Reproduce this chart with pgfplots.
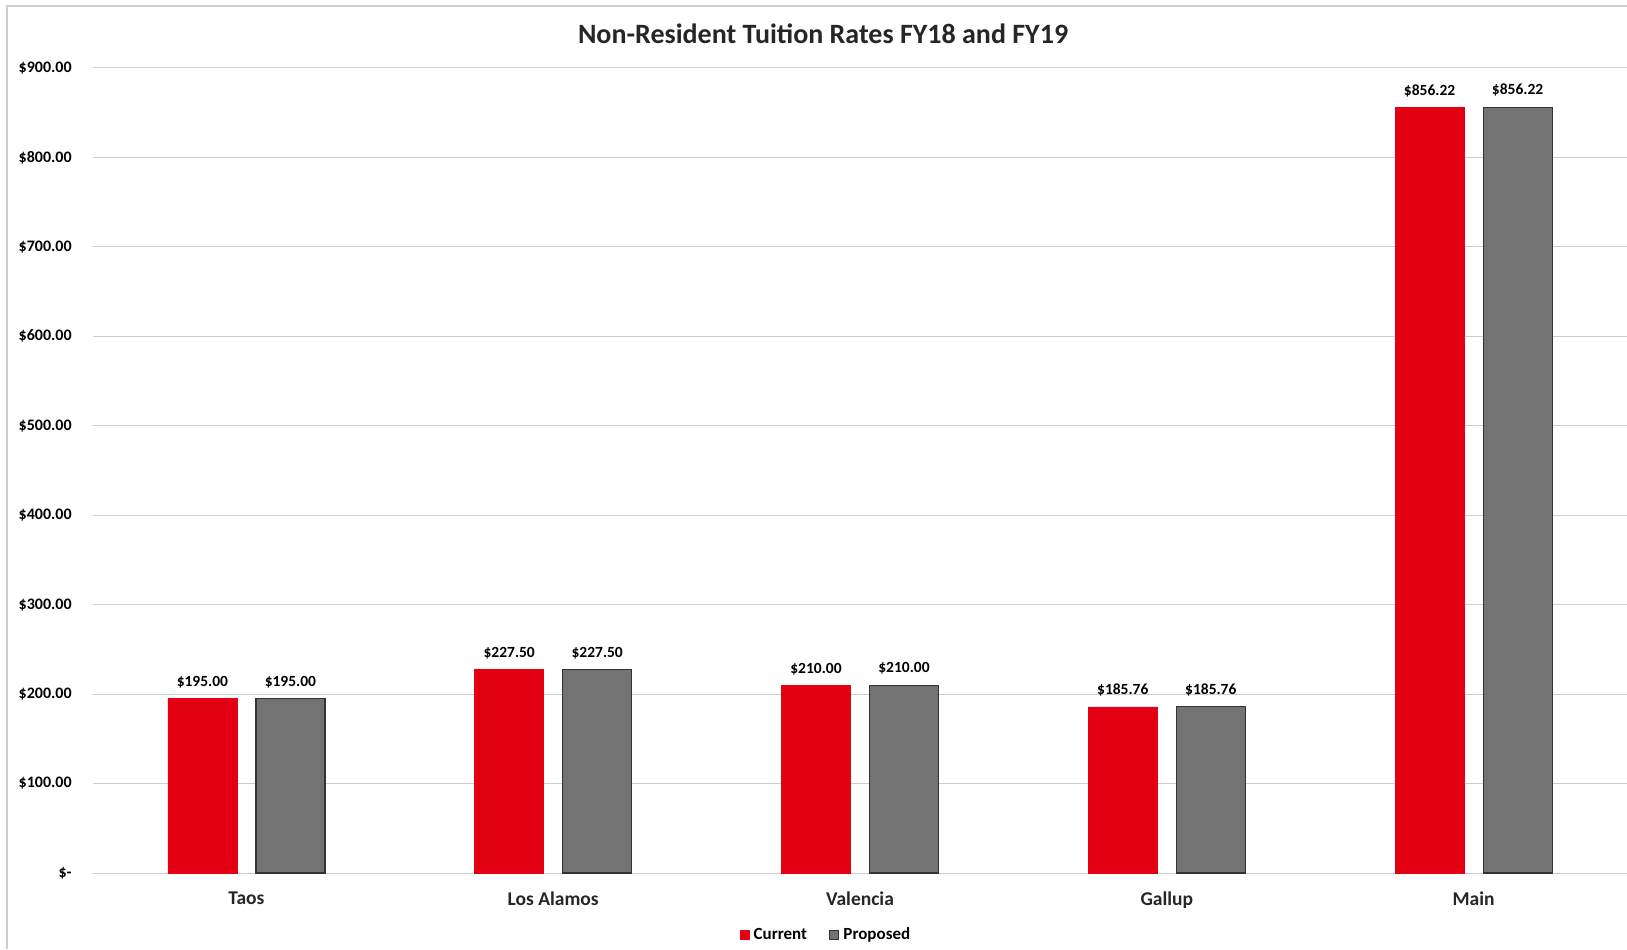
\documentclass[border=0pt]{standalone}
\usepackage{pgfplots}
\pgfplotsset{compat=1.18}
\usepackage{fontspec}
\setmainfont{Carlito}

\definecolor{barred}{RGB}{226,0,18}
\definecolor{bargray}{RGB}{115,115,115}
\definecolor{gridgray}{RGB}{205,205,205}

\begin{document}
\begin{tikzpicture}
  % whole chart area, 1px = 0.5pt
  \path[use as bounding box] (-46.5pt,-38pt) rectangle (767pt,436.5pt);
  \draw[gridgray, line width=0.6pt] (-43pt,-38pt) -- (-43pt,433.5pt) -- (767pt,433.5pt);

  \begin{axis}[
    scale only axis,
    width=767pt, height=402.5pt,
    ybar=9.5pt, bar width=34.5pt,
    xmin=-0.5, xmax=4.5,
    ymin=0, ymax=900,
    xtick={0,1,2,3,4},
    xticklabels={Taos, Los Alamos, Valencia, Gallup, Main},
    ytick={0,100,200,300,400,500,600,700,800,900},
    yticklabels={\$-, \$100.00, \$200.00, \$300.00, \$400.00, \$500.00, \$600.00, \$700.00, \$800.00, \$900.00},
    axis line style={draw=none},
    major tick length=0pt,
    ymajorgrids,
    grid style={gridgray, line width=0.5pt},
    xticklabel style={font=\fontsize{9.75pt}{11pt}\selectfont\bfseries, color=black!85, inner sep=0pt, anchor=north, yshift=-9pt},
    yticklabel style={font=\fontsize{8pt}{9pt}\selectfont\bfseries, inner sep=0pt, anchor=east, xshift=-10.5pt},
    xtick style={draw=none}, ytick style={draw=none},
    clip=false,
    nodes near coords={\$\pgfmathprintnumber[assume math mode=true,fixed,fixed zerofill,precision=2]{\pgfplotspointmeta}},
    every node near coord/.append style={font=\fontsize{7.75pt}{9pt}\selectfont\bfseries, color=black, inner sep=0pt, anchor=south, yshift=5pt},
    legend style={at={(axis description cs:0.4785,-0.077)}, anchor=center, draw=none, fill=none,
      legend columns=2, font=\fontsize{8.5pt}{9pt}\selectfont\bfseries,
      /tikz/every even column/.append style={column sep=9pt}},
    legend image code/.code={\draw[#1] (0pt,-2.3pt) rectangle (4.6pt,2.3pt);},
  ]
  \addplot[fill=barred, draw=barred, line width=0.3pt] coordinates {
    (0,195.00) (1,227.50) (2,210.00) (3,185.76) (4,856.22)
  };
  \addlegendentry{Current}
  \addplot[fill=bargray, draw=black!80, line width=0.6pt] coordinates {
    (0,195.00) (1,227.50) (2,210.00) (3,185.76) (4,856.22)
  };
  \addlegendentry{Proposed}

  \node[font=\fontsize{14pt}{16pt}\selectfont\bfseries, color=black!85] at (axis description cs:0.4759,1.0422) {Non-Resident Tuition Rates FY18 and FY19};
  \end{axis}
\end{tikzpicture}
\end{document}
